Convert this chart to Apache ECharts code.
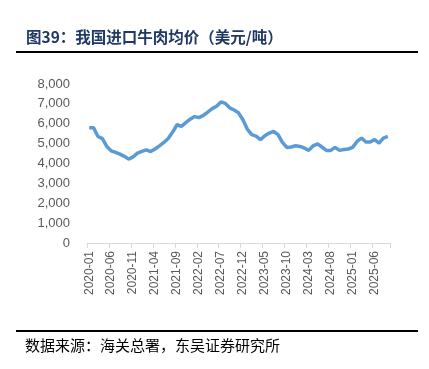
<!DOCTYPE html>
<html><head><meta charset="utf-8">
<script src="https://cdn.jsdelivr.net/npm/echarts@6/dist/echarts.min.js"></script>
<style>html,body{margin:0;padding:0;background:#fff}#c{width:429px;height:369px}</style>
</head><body><div id="c"></div>
<script>
const startYear = 2020, monthCount = 69;
const categories = [];
for (let i = 0; i < monthCount; i++) {
  const y = startYear + Math.floor(i / 12), m = (i % 12) + 1;
  categories.push(y + '-' + (m < 10 ? '0' + m : m));
}
const beefPrice = [
  5800, 5800, 5360, 5250, 4860, 4640, 4560, 4470, 4360, 4220,
  4330, 4520, 4610, 4690, 4600, 4730, 4890, 5060, 5260, 5580,
  5950, 5870, 6060, 6230, 6360, 6310, 6420, 6590, 6760, 6880,
  7100, 7020, 6800, 6690, 6550, 6200, 5730, 5450, 5380, 5200,
  5400, 5530, 5610, 5450, 5060, 4810, 4830, 4890, 4860, 4780,
  4660, 4890, 4990, 4830, 4660, 4660, 4810, 4660, 4700, 4730,
  4810, 5110, 5280, 5080, 5080, 5200, 5030, 5280, 5360
];
const yTicks = [0, 1000, 2000, 3000, 4000, 5000, 6000, 7000, 8000];
const titleText = '图39：我国进口牛肉均价（美元/吨）';
const sourceText = '数据来源：海关总署，东吴证券研究所';

const chart = echarts.init(document.getElementById('c'));
chart.setOption({
  animation: false,
  backgroundColor: '#fff',
  grid: { left: 87, right: 39, top: 84, bottom: 126, containLabel: false },
  graphic: [
    { type: 'text', left: 26, top: 29, style: { text: titleText, font: 'bold 15.5px "Noto Sans CJK SC", serif', fill: '#1f3864' } },
    { type: 'line', shape: { x1: 16, y1: 52, x2: 418, y2: 52 }, style: { stroke: '#000', lineWidth: 2 } },
    { type: 'line', shape: { x1: 16, y1: 331, x2: 418, y2: 331 }, style: { stroke: '#000', lineWidth: 2 } },
    { type: 'text', left: 25, top: 338, style: { text: sourceText, font: '15px "Noto Sans CJK SC", serif', fill: '#000' } }
  ],
  xAxis: {
    type: 'category', data: categories, boundaryGap: true,
    axisLine: { lineStyle: { color: '#d9d9d9' } },
    axisTick: { show: true, interval: 4, lineStyle: { color: '#d9d9d9' } },
    axisLabel: { interval: 4, rotate: 90, color: '#595959', fontSize: 12, fontFamily: 'Liberation Sans, Arial', margin: 8 }
  },
  yAxis: {
    type: 'value', min: yTicks[0], max: yTicks[yTicks.length - 1], interval: 1000,
    axisLine: { show: false }, axisTick: { show: false }, splitLine: { show: false },
    axisLabel: { color: '#595959', fontSize: 13, fontFamily: 'Liberation Sans, Arial', margin: 17,
      formatter: v => v.toLocaleString('en-US') }
  },
  series: [{
    type: 'line', data: beefPrice, symbol: 'none', smooth: false,
    lineStyle: { color: '#5b9bd5', width: 3.5 }
  }]
});
</script></body></html>
